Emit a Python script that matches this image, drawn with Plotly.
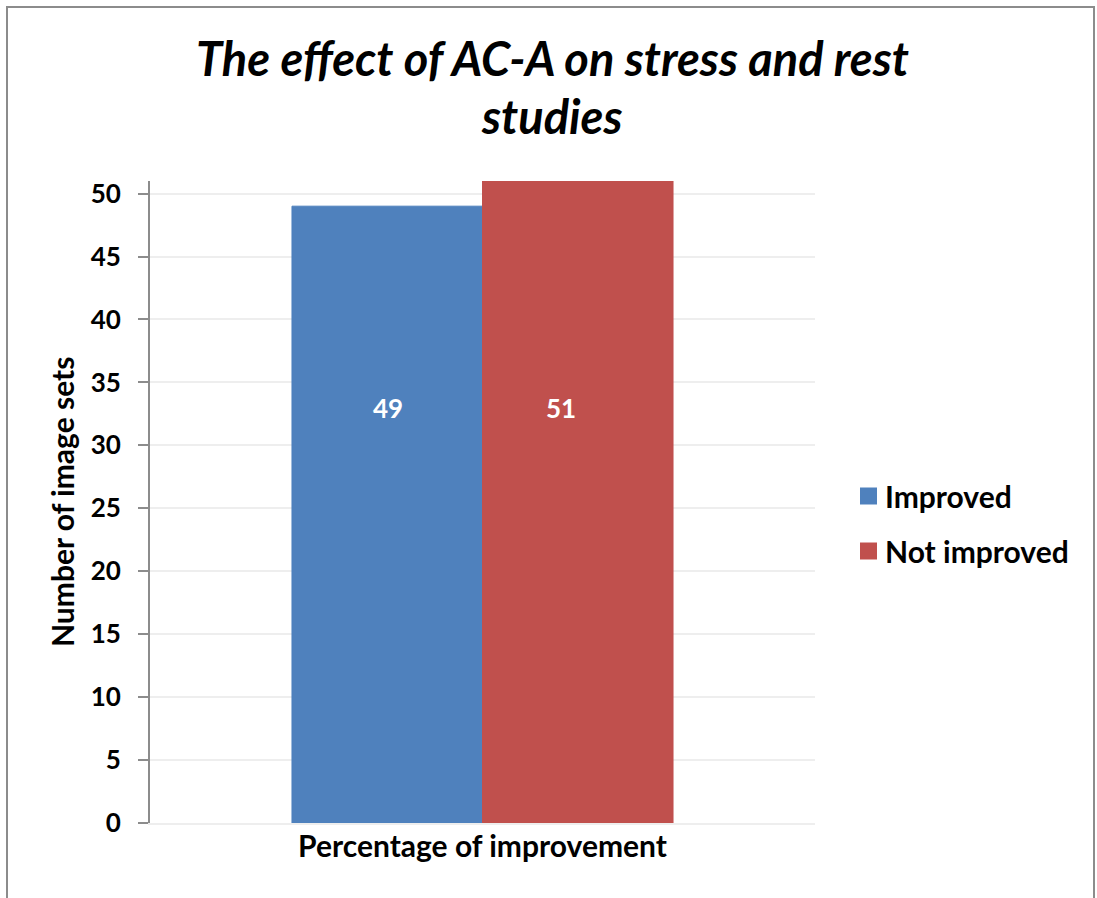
import plotly.graph_objects as go

# Chart data
category = ["Percentage of improvement"]
series_names = ["Improved", "Not improved"]
improved = [49]
not_improved = [51]
y_ticks = [0, 5, 10, 15, 20, 25, 30, 35, 40, 45, 50]
title_lines = ["The effect of AC-A on stress and rest", "studies"]

colors = ["#4F81BD", "#C0504D"]
FONT = "Lato"

W, H = 1097, 898
ml, mr, mt, mb = 150, 282, 181, 75
pw, ph = W - ml - mr, H - mt - mb


def px_x(p):
    return (p - ml) / pw


def px_y(p):
    return (H - mb - p) / ph


fig = go.Figure()
for name, vals, col in zip(series_names, [improved, not_improved], colors):
    fig.add_trace(go.Bar(
        x=category, y=vals, name=name,
        marker=dict(color=col, line=dict(width=1, color=col)),
        showlegend=False, cliponaxis=False,
    ))

annotations = []

# value labels inside the bars
for vals, xs in zip([improved, not_improved], [-95, 78]):
    annotations.append(dict(
        x=category[0], y=33, xref="x", yref="y", xshift=xs,
        text=f"<b>{vals[0]}</b>", showarrow=False,
        font=dict(family=FONT, size=26, color="white"),
    ))

# two-line title
for txt, yc in zip(title_lines, [58, 116]):
    annotations.append(dict(
        x=px_x(552), y=px_y(yc), xref="paper", yref="paper",
        xanchor="center", yanchor="middle", text=f"<b><i>{txt}</i></b>",
        showarrow=False, font=dict(family=FONT, size=47, color="black"),
    ))

# y-axis title
annotations.append(dict(
    x=px_x(62), y=px_y(502), xref="paper", yref="paper",
    xanchor="center", yanchor="middle", textangle=-90,
    text="<b>Number of image sets</b>", showarrow=False,
    font=dict(family=FONT, size=30, color="black"),
))

# legend entries
shapes = []
for name, col, yc in zip(series_names, colors, [496, 551]):
    shapes.append(dict(
        type="rect", xref="paper", yref="paper",
        x0=px_x(860), x1=px_x(877), y0=px_y(yc + 8.5), y1=px_y(yc - 8.5),
        fillcolor=col, line=dict(width=0),
    ))
    annotations.append(dict(
        x=px_x(883), y=px_y(yc), xref="paper", yref="paper",
        xanchor="left", yanchor="middle", text=f"<b>{name}</b>",
        showarrow=False, font=dict(family=FONT, size=30, color="black"),
    ))

# outer chart border
shapes.append(dict(
    type="rect", xref="paper", yref="paper",
    x0=px_x(7), x1=px_x(1094), y0=px_y(H + 20), y1=px_y(7),
    line=dict(color="#8c8c8c", width=2), layer="below",
))

fig.update_layout(
    width=W, height=H,
    margin=dict(l=ml, r=mr, t=mt, b=mb, autoexpand=False),
    paper_bgcolor="white", plot_bgcolor="white",
    barmode="group", bargap=0.427, bargroupgap=0,
    font=dict(family=FONT, color="black"),
    showlegend=False,
    xaxis=dict(
        showgrid=False, showline=True, linecolor="#eeeeee", linewidth=2,
        tickfont=dict(family=FONT, size=30, weight="bold"), ticks="",
        ticklabelstandoff=-4, fixedrange=True,
    ),
    yaxis=dict(
        range=[0, 51], tickvals=y_ticks, showgrid=True, gridcolor="#eeeeee", gridwidth=2,
        showline=True, linecolor="#8c8c8c", linewidth=2,
        ticks="outside", ticklen=10, tickcolor="#8c8c8c", tickwidth=2,
        tickfont=dict(family=FONT, size=26, weight="bold"),
        ticklabelstandoff=12, zeroline=False,
    ),
    annotations=annotations,
    shapes=shapes,
)

fig.write_html("out.html")
